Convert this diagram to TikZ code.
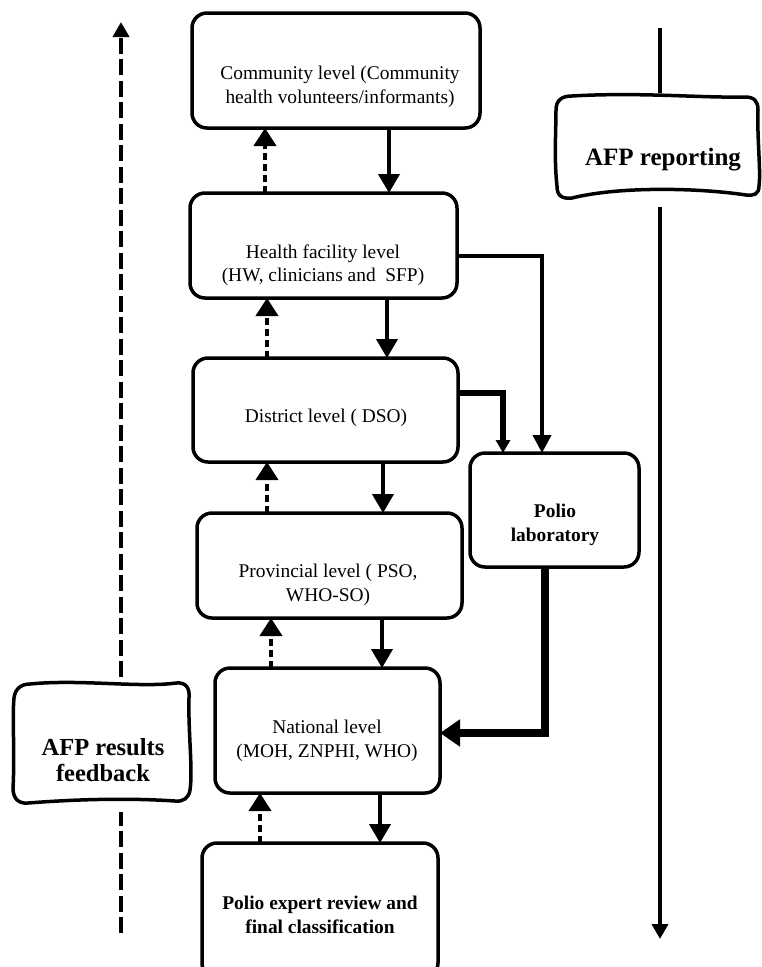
\documentclass[tikz,border=0pt]{standalone}
\usepackage{fontspec}
\setmainfont{Liberation Serif}
\usetikzlibrary{arrows.meta}
\begin{document}
\begin{tikzpicture}[x=1pt,y=-1pt,
  box/.style={draw, line width=3.5pt, rounded corners=15pt, outer sep=0pt, inner sep=0pt, fill=white},
  txt/.style={align=center, inner sep=0pt, font=\fontsize{19.4}{23.5}\selectfont},
  btxt/.style={align=center, inner sep=0pt, font=\fontsize{19.4}{23.5}\selectfont\bfseries},
  bigtxt/.style={align=center, inner sep=0pt, font=\fontsize{24.5}{26}\selectfont\bfseries},
  wavy/.style={draw, line width=3.5pt, fill=white},
  downarr/.style={line width=4pt, -{Triangle[length=19pt,width=21pt]}},
  uparr/.style={line width=4pt, dash pattern=on 7pt off 4pt, -{Triangle[length=18pt,width=22pt]}},
  longline/.style={line width=4.5pt},
  longdash/.style={line width=4.5pt, dash pattern=on 16pt off 5.5pt},
  longtip/.style={-{Triangle[length=15pt,width=16pt]}},
]
\useasboundingbox (0,0) rectangle (761,967);

% ---- boxes ----
\node[box, minimum width=288pt, minimum height=115pt] (comm) at (336,70.5) {};
\node[box, minimum width=267pt, minimum height=105pt] (health) at (323.5,245.5) {};
\node[box, minimum width=265pt, minimum height=104pt] (district) at (325.5,410) {};
\node[box, minimum width=265pt, minimum height=105pt] (prov) at (329.5,565.5) {};
\node[box, minimum width=225pt, minimum height=125pt] (natl) at (327.5,730.5) {};
\node[box, minimum width=236pt, minimum height=135pt] (expert) at (320,910.5) {};
\node[box, minimum width=169pt, minimum height=114pt] (lab) at (554.5,510) {};

% ---- texts ----
\node[txt] (commT) at (340,87) {Community level (Community\\health volunteers/informants)};
\node[txt] (healthT) at (323,265) {Health facility level\\(HW, clinicians and~ SFP)};
\node[txt] (districtT) at (326,418) {District level ( DSO)};
\node[txt] (provT) at (328,585) {Provincial level ( PSO,\\WHO-SO)};
\node[txt] (natlT) at (327,741) {National level\\(MOH, ZNPHI, WHO)};
\node[btxt] (expertT) at (320,915) {Polio expert review and\\final classification};
\node[btxt] (labT) at (555,525) {Polio\\laboratory};

% ---- vertical connectors ----
\coordinate (s1) at (389,0); \coordinate (d1) at (265,0);
\coordinate (s2) at (387,0); \coordinate (d2) at (267,0);
\coordinate (s3) at (383,0); \coordinate (d3) at (267,0);
\coordinate (s4) at (382,0); \coordinate (d4) at (271,0);
\coordinate (s5) at (380,0); \coordinate (d5) at (260,0);
\draw[downarr] (comm.south -| s1) -- (health.north -| s1);
\draw[uparr] (health.north -| d1) -- (comm.south -| d1);
\draw[downarr] (health.south -| s2) -- (district.north -| s2);
\draw[uparr] (district.north -| d2) -- (health.south -| d2);
\draw[downarr] (district.south -| s3) -- (prov.north -| s3);
\draw[uparr] (prov.north -| d3) -- (district.south -| d3);
\draw[downarr] (prov.south -| s4) -- (natl.north -| s4);
\draw[uparr] (natl.north -| d4) -- (prov.south -| d4);
\draw[downarr] (natl.south -| s5) -- (expert.north -| s5);
\draw[uparr] (expert.north -| d5) -- (natl.south -| d5);

% ---- connectors to and from the laboratory ----
\coordinate (hy) at (0,256); \coordinate (hx) at (542,0);
\coordinate (dy) at (0,393); \coordinate (dx) at (503,0);
\coordinate (ly) at (0,733); \coordinate (lx) at (545,0);
\draw[line width=4pt, -{Triangle[length=18pt,width=18pt]}] (health.east |- hy) -| (lab.north -| hx);
\draw[line width=6.5pt, -{Triangle[length=13pt,width=14pt]}] (district.east |- dy) -| (lab.north -| dx);
\draw[line width=8pt, -{Triangle[length=20pt,width=26pt]}] (lab.south -| lx) |- (natl.east |- ly);

% ---- long side arrows ----
\coordinate (Ltop) at (121,22); \coordinate (La) at (121,677);
\coordinate (Lb) at (121,812); \coordinate (Lbot) at (121,933);
\draw[longdash] (Lbot) -- (Lb);
\draw[longdash, longtip] (La) -- (Ltop);
\coordinate (Rtop) at (660,28); \coordinate (Ra) at (660,93);
\coordinate (Rb) at (660,207); \coordinate (Rbot) at (660,939);
\draw[longline] (Rtop) -- (Ra);
\draw[longline, longtip] (Rb) -- (Rbot);

% ---- wavy boxes ----
\draw[wavy] (572,96) .. controls (640,92) and (700,98) .. (745,97)
  .. controls (755,97) and (758,102) .. (758,110)
  .. controls (757,140) and (761,170) .. (759,186)
  .. controls (759,194) and (754,196) .. (746,195)
  .. controls (700,188) and (620,186) .. (572,198)
  .. controls (562,199) and (557,196) .. (557,186)
  .. controls (554,160) and (556,130) .. (556,110)
  .. controls (556,100) and (562,96) .. (572,96) -- cycle;
\node[bigtxt, font=\fontsize{25}{27}\selectfont\bfseries] (rep) at (663,160) {AFP reporting};

\draw[wavy] (30,684) .. controls (80,679) and (140,688) .. (176,683)
  .. controls (186,682) and (190,688) .. (189,698)
  .. controls (188,730) and (193,770) .. (190,790)
  .. controls (189,798) and (183,802) .. (175,801)
  .. controls (130,798) and (80,799) .. (28,803)
  .. controls (18,804) and (13,798) .. (13,788)
  .. controls (15,750) and (12,720) .. (14,698)
  .. controls (15,689) and (21,684) .. (30,684) -- cycle;
\node[bigtxt] (fb) at (103,760) {AFP results\\feedback};
\end{tikzpicture}
\end{document}
